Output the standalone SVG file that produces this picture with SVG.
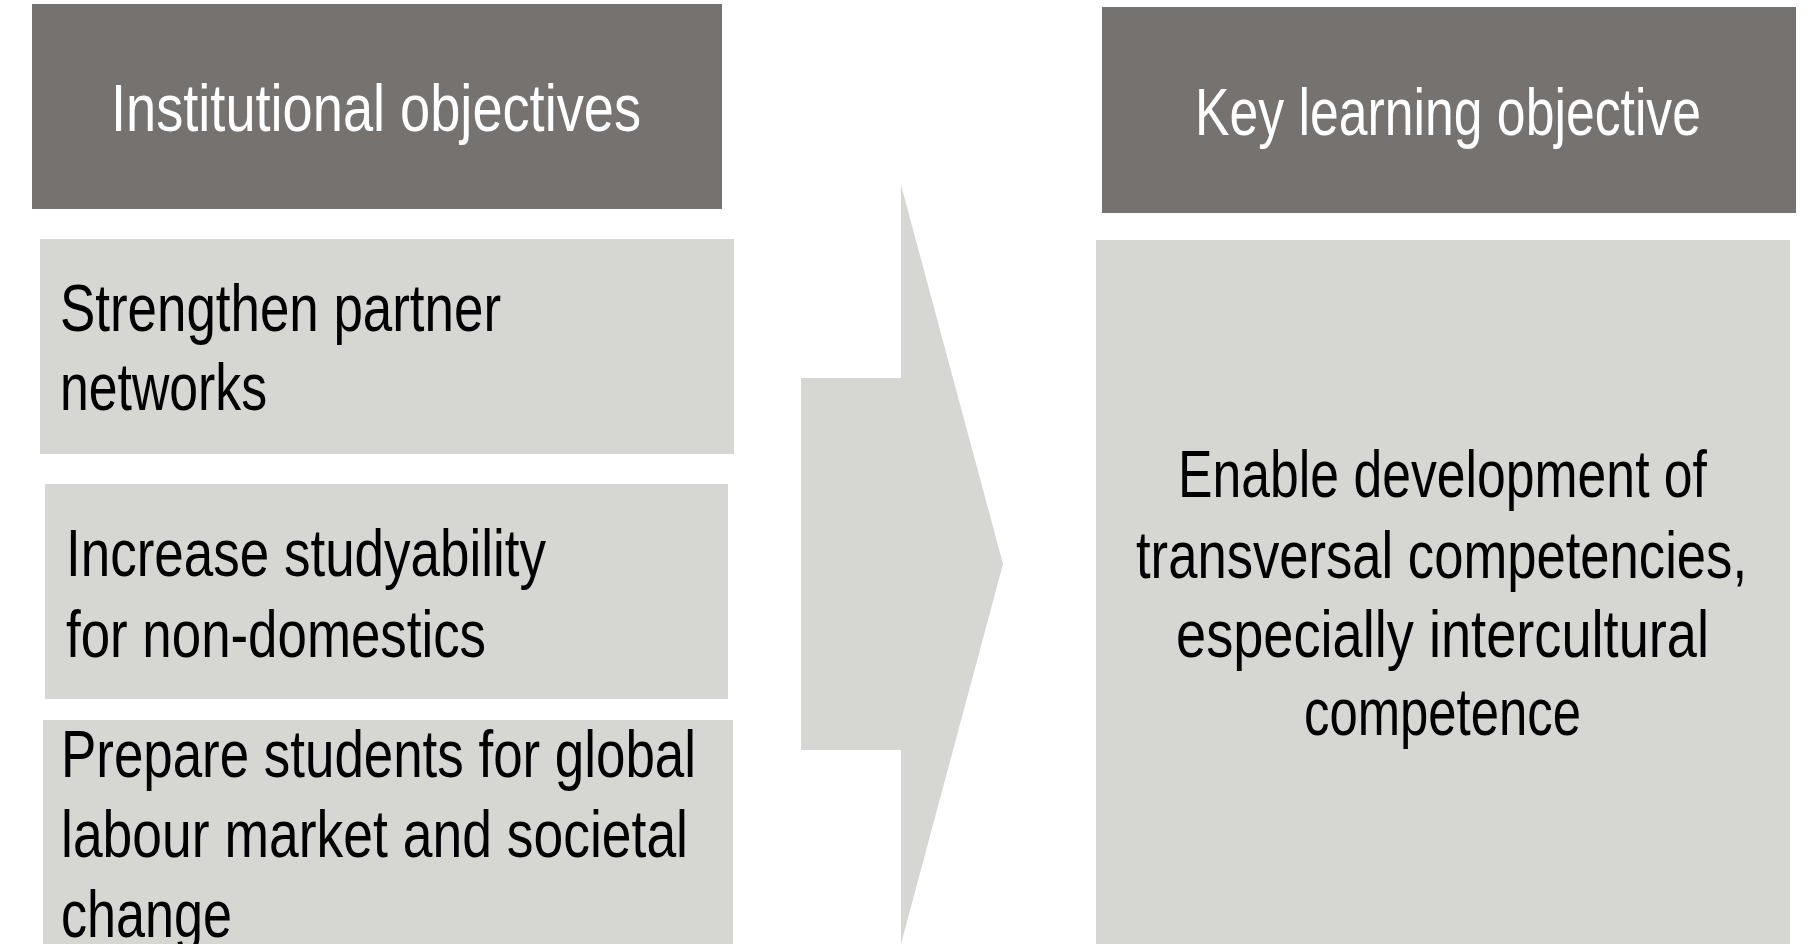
<svg xmlns="http://www.w3.org/2000/svg" width="1818" height="944" viewBox="0 0 1818 944">
<style>
.hdr{fill:#767270}
.box{fill:#d6d7d2}
text{font-family:"Liberation Sans Narrow","Liberation Sans",Arial,sans-serif;font-size:66px}
.wt{fill:#ffffff}
.bk{fill:#000000}
</style>
<rect width="1818" height="944" fill="#ffffff"/>
<g id="header-institutional">
<rect class="hdr" x="32" y="4" width="690" height="205"/>
<text class="wt" x="111" y="131" textLength="530" lengthAdjust="spacingAndGlyphs">Institutional objectives</text>
</g>
<g id="node-strengthen">
<rect class="box" x="40" y="239" width="694" height="215"/>
<text class="bk" x="60" y="331" textLength="441" lengthAdjust="spacingAndGlyphs">Strengthen partner</text>
<text class="bk" x="60" y="410" textLength="207" lengthAdjust="spacingAndGlyphs">networks</text>
</g>
<g id="node-increase">
<rect class="box" x="45" y="484" width="683" height="215"/>
<text class="bk" x="66" y="576" textLength="480" lengthAdjust="spacingAndGlyphs">Increase studyability</text>
<text class="bk" x="66" y="657" textLength="420" lengthAdjust="spacingAndGlyphs">for non-domestics</text>
</g>
<g id="node-prepare">
<rect class="box" x="43" y="720" width="690" height="224"/>
<text class="bk" x="61" y="777" textLength="635" lengthAdjust="spacingAndGlyphs">Prepare students for global</text>
<text class="bk" x="61" y="857" textLength="627" lengthAdjust="spacingAndGlyphs">labour market and societal</text>
<text class="bk" x="61" y="937" textLength="171" lengthAdjust="spacingAndGlyphs">change</text>
</g>
<g id="connectors">
<polygon class="box" points="801,378 901,378 901,185 1003,564 901,944 901,750 801,750"/>
</g>
<g id="header-key">
<rect class="hdr" x="1102" y="7" width="694" height="206"/>
<text class="wt" x="1195" y="135" textLength="506" lengthAdjust="spacingAndGlyphs">Key learning objective</text>
</g>
<g id="node-key">
<rect class="box" x="1096" y="240" width="694" height="704"/>
<text class="bk" x="1178" y="497" textLength="529" lengthAdjust="spacingAndGlyphs">Enable development of</text>
<text class="bk" x="1136" y="578" textLength="611" lengthAdjust="spacingAndGlyphs">transversal competencies,</text>
<text class="bk" x="1176" y="657" textLength="533" lengthAdjust="spacingAndGlyphs">especially intercultural</text>
<text class="bk" x="1304" y="735" textLength="277" lengthAdjust="spacingAndGlyphs">competence</text>
</g>
</svg>
